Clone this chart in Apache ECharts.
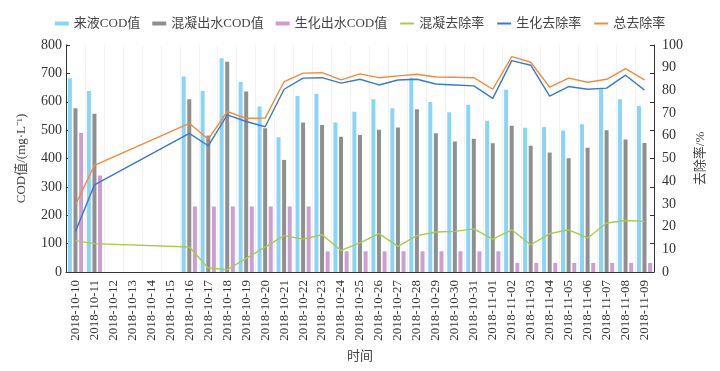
<!DOCTYPE html>
<html><head><meta charset="utf-8">
<script src="https://cdn.jsdelivr.net/npm/echarts@6/dist/echarts.min.js"></script>
<style>html,body{margin:0;padding:0;background:#fff}#c{width:720px;height:371px}</style>
</head><body><div id="c"></div>
<script>
const dates = ['2018-10-10','2018-10-11','2018-10-12','2018-10-13','2018-10-14','2018-10-15','2018-10-16','2018-10-17','2018-10-18','2018-10-19','2018-10-20','2018-10-21','2018-10-22','2018-10-23','2018-10-24','2018-10-25','2018-10-26','2018-10-27','2018-10-28','2018-10-29','2018-10-30','2018-10-31','2018-11-01','2018-11-02','2018-11-03','2018-11-04','2018-11-05','2018-11-06','2018-11-07','2018-11-08','2018-11-09'];
const influentCOD = [683,638,null,null,null,null,689,638,753,670,583,475,620,628,527,565,609,577,685,599,563,589,533,642,508,511,499,521,644,609,585];
const coagCOD = [577,558,null,null,null,null,609,481,741,636,507,395,527,518,477,483,501,509,574,489,460,470,454,515,445,421,401,438,500,467,455];
const bioCOD = [490,340,null,null,null,null,231,231,231,231,231,231,231,73,73,73,73,73,73,73,73,73,73,32,32,32,32,32,32,32,32];
const coagRate = [13.8,12.5,null,null,null,null,11.0,1.8,1.0,6.0,11.0,16.0,14.5,16.4,9.5,12.8,16.9,11.3,16.0,17.6,17.9,19.0,14.5,18.6,12.0,16.9,18.6,15.0,21.6,22.7,22.3];
const bioRate = [17.9,38.4,null,null,null,null,61.1,55.6,69.2,66.3,64.0,80.5,85.4,85.6,83.2,84.9,82.4,84.6,84.9,82.8,82.4,82.0,76.5,93.1,91.1,77.5,81.7,80.5,81.0,86.7,80.1];
const totalRate = [29.6,47.0,null,null,null,null,65.5,58.5,70.7,67.7,67.8,83.9,87.6,87.8,84.6,87.3,85.6,86.4,87.1,85.9,85.8,85.6,80.5,94.9,92.4,81.4,85.4,83.6,84.9,89.6,84.6];
const leftTicks = [0,800,100];
const rightTicks = [0,100,10];

const serif = "'Liberation Serif','Noto Sans CJK SC',serif";
const chart = echarts.init(document.getElementById('c'));
const noSym = {opacity:0,borderWidth:0};
chart.setOption({
  animation:false,
  textStyle:{fontFamily:serif,color:'#333'},
  legend:{
    top:12,left:'center',itemGap:12,itemWidth:14,itemHeight:4,
    textStyle:{fontFamily:serif,fontSize:13,color:'#444'},
    data:[{name:'来液COD值',icon:'rect'},{name:'混凝出水COD值',icon:'rect'},{name:'生化出水COD值',icon:'rect'},
          {name:'混凝去除率',itemStyle:noSym},{name:'生化去除率',itemStyle:noSym},{name:'总去除率',itemStyle:noSym}]
  },
  grid:{left:66,right:66,top:45,bottom:99},
  xAxis:{
    type:'category',data:dates,boundaryGap:true,
    name:'时间',nameLocation:'middle',nameGap:78,
    nameTextStyle:{fontFamily:serif,fontSize:13,color:'#444'},
    axisLine:{lineStyle:{color:'#333',width:1}},
    axisTick:{inside:true,length:4,lineStyle:{color:'#333'}},
    axisLabel:{rotate:90,fontSize:13,color:'#333',fontFamily:serif,interval:0,margin:8},
    splitLine:{show:true,lineStyle:{color:'#f2f2f2',width:1}}
  },
  yAxis:[
    {type:'value',min:leftTicks[0],max:leftTicks[1],interval:leftTicks[2],
     name:'COD值/(mg·L⁻¹)',nameLocation:'middle',nameGap:38,nameRotate:90,
     nameTextStyle:{fontFamily:serif,fontSize:13,color:'#444'},
     axisLine:{show:true,lineStyle:{color:'#333'}},
     axisTick:{show:true,inside:true,length:4,lineStyle:{color:'#333'}},
     axisLabel:{fontSize:14,color:'#333',fontFamily:serif,margin:4},
     splitLine:{show:false}},
    {type:'value',min:rightTicks[0],max:rightTicks[1],interval:rightTicks[2],position:'right',
     name:'去除率/%',nameLocation:'middle',nameGap:40,nameRotate:90,
     nameTextStyle:{fontFamily:serif,fontSize:13,color:'#444'},
     axisLine:{show:true,lineStyle:{color:'#333'}},
     axisTick:{show:false},
     axisLabel:{fontSize:14,color:'#333',fontFamily:serif,margin:8},
     splitLine:{show:false}},
    {type:'value',min:leftTicks[0],max:leftTicks[1],interval:leftTicks[2],position:'right',
     axisLine:{show:false},axisLabel:{show:false},splitLine:{show:false},
     axisTick:{show:true,inside:true,length:4,lineStyle:{color:'#333'}}}
  ],
  series:[
    {name:'来液COD值',type:'bar',data:influentCOD,barWidth:4,barGap:'40%',itemStyle:{color:'#8ad4f6'}},
    {name:'混凝出水COD值',type:'bar',data:coagCOD,barWidth:4,barGap:'40%',itemStyle:{color:'#8f8f90'}},
    {name:'生化出水COD值',type:'bar',data:bioCOD,barWidth:4,barGap:'40%',itemStyle:{color:'#cf9ed0'}},
    {name:'混凝去除率',type:'line',yAxisIndex:1,data:coagRate,connectNulls:true,symbol:'none',lineStyle:{color:'#a8cb4c',width:1.4},itemStyle:{color:'#a8cb4c'}},
    {name:'生化去除率',type:'line',yAxisIndex:1,data:bioRate,connectNulls:true,symbol:'none',lineStyle:{color:'#3a78d0',width:1.4},itemStyle:{color:'#3a78d0'}},
    {name:'总去除率',type:'line',yAxisIndex:1,data:totalRate,connectNulls:true,symbol:'none',lineStyle:{color:'#f28a3a',width:1.4},itemStyle:{color:'#f28a3a'}}
  ]
});
</script></body></html>
